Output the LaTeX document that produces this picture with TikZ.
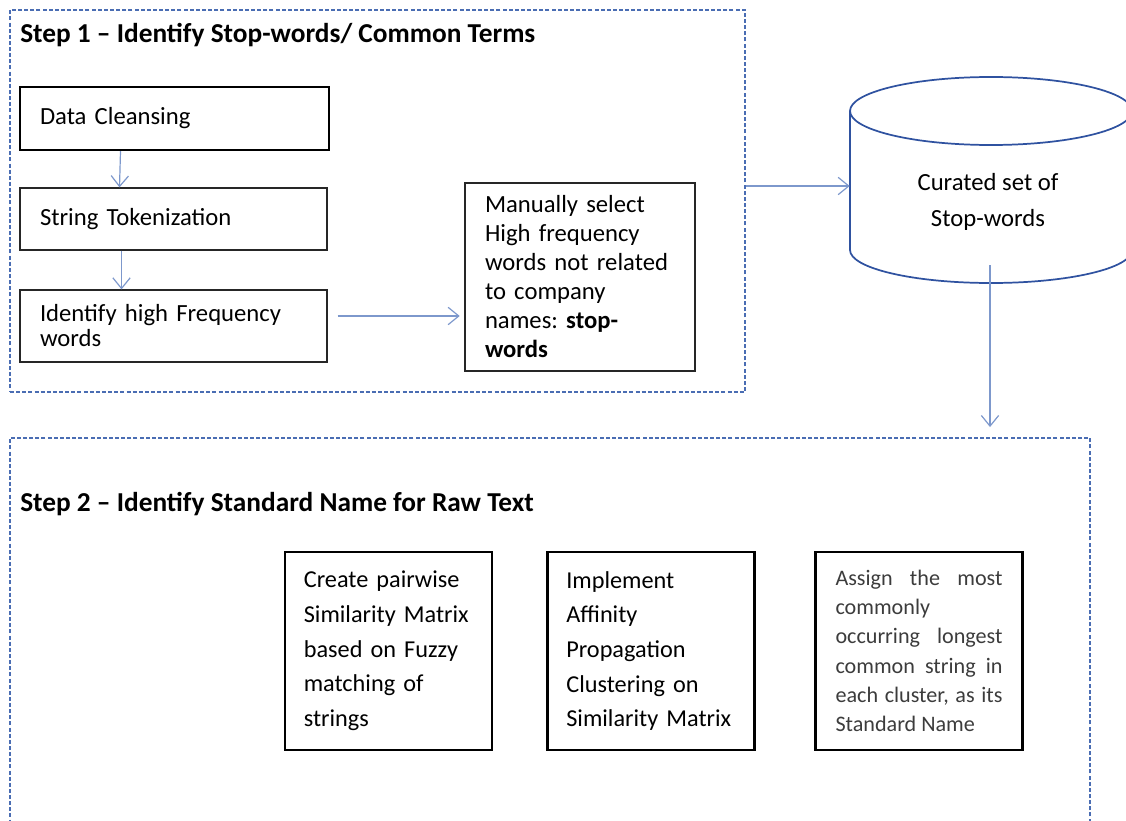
\documentclass[tikz,border=0pt]{standalone}
\usepackage{fontspec}
\setmainfont{Carlito}
\usetikzlibrary{arrows.meta,positioning,shapes.geometric}
\definecolor{frameblue}{HTML}{4A6DB3}
\definecolor{dbblue}{HTML}{2F52A0}
\definecolor{arrblue}{HTML}{7D98CC}
\definecolor{txtgray}{HTML}{3C3C3C}
\frenchspacing

\begin{document}
\begin{tikzpicture}[x=0.75pt, y=-0.75pt,
      frame/.style={draw=frameblue, line width=1.4pt, dash pattern=on 3pt off 1.6pt},
      ttl/.style={anchor=west, inner sep=0pt, font=\fontsize{20.5}{24}\selectfont\bfseries},
      blk/.style={draw=black!85, line width=0.9pt, align=left, inner xsep=15pt,
                  font=\fontsize{18.5}{21.75}\selectfont},
      tall/.style={blk, draw=black, line width=1.6pt, minimum width=155.25pt, minimum height=148.5pt,
                   inner xsep=14pt, text width=127pt, font=\fontsize{18.2}{26}\selectfont},
      arr/.style={-{Straight Barb[length=8pt, width=13pt]}, arrblue, line width=0.9pt}]
    \useasboundingbox (0,0) rectangle (1126,820);

    % step 1
    \node[frame, minimum width=551.25pt, minimum height=286.5pt] (stepone) at (377.5,201) {};
    \node[ttl] (ttlone) at (20,35) {Step 1 -- Identify Stop-words/ Common Terms};
    \node[blk, draw=black, line width=1.8pt, minimum width=231.75pt, minimum height=47.25pt, text width=201.75pt]
        (dc) at (174.5,118.5) {Data Cleansing};
    \node[blk, minimum width=230.25pt, minimum height=46.5pt, text width=200.25pt]
        (tok) at (173.5,219) {String Tokenization};
    \node[blk, minimum width=230.25pt, minimum height=54pt, text width=200.25pt,
          font=\fontsize{18.5}{18.75}\selectfont]
        (freq) at (173.5,326) {Identify high Frequency\\words};
    \node[blk, minimum width=172.5pt, minimum height=141pt, text width=142.5pt]
        (manual) at (580,277) {Manually select\\High frequency\\words not related\\to company\\names: \textbf{stop-}\\\textbf{words}};

    % stop-word store, drawn by hand round a plain node
    \node[minimum width=211.5pt, minimum height=154.5pt] (db) at (991,180) {};
    \draw[dbblue, line width=1.3pt] (850,111) -- (850,250)
        arc[start angle=180, end angle=360, x radius=105.75pt, y radius=24.75pt] -- (1132,111);
    \draw[dbblue, line width=1.3pt] (991,111) ellipse[x radius=105.75pt, y radius=25.5pt];
    \node[align=center, font=\fontsize{18.5}{27}\selectfont] (dbtext) at (988,202) {Curated set of\\Stop-words};

    % step 2
    \node[frame, minimum width=810pt, minimum height=288pt] (steptwo) at (550,630) {};
    \node[ttl] (ttltwo) at (20,504) {Step 2 -- Identify Standard Name for Raw Text};
    \node[tall] (pairs) at (388.5,651) {Create pairwise\\Similarity Matrix\\based on Fuzzy\\matching of\\strings};
    \node[tall] (affprop) at (651,651) {Implement\\Affinity\\Propagation\\Clustering on\\Similarity Matrix};
    \node[tall, inner xsep=15pt, text width=125.25pt, text justified, text=txtgray, font=\fontsize{16.6}{22}\selectfont]
        (assign) at (919,651)
        {Assign the most\linebreak commonly\\occurring longest\linebreak common string in\linebreak each cluster, as its\linebreak Standard Name};

    \draw[arr] ([xshift=-40.5pt]dc.south) -- ([xshift=-40.5pt]tok.north);
    \draw[arr] ([xshift=-39pt]tok.south) -- ([xshift=-39pt]freq.north);
    \draw[arr, shorten <=7.5pt, shorten >=3.5pt] ([yshift=7.5pt]freq.east) -- ([yshift=7.5pt]freq.east -| manual.west);
    \draw[arr] ([yshift=-4.5pt]stepone.east |- db.center) -- ([yshift=-4.5pt]db.west |- db.center);
    \coordinate (drop) at ([yshift=7.5pt,xshift=-0.75pt]steptwo.north -| db.south);
    \draw[arr] ([yshift=13.5pt,xshift=-0.75pt]db.south) -- (drop);
\end{tikzpicture}
\end{document}
